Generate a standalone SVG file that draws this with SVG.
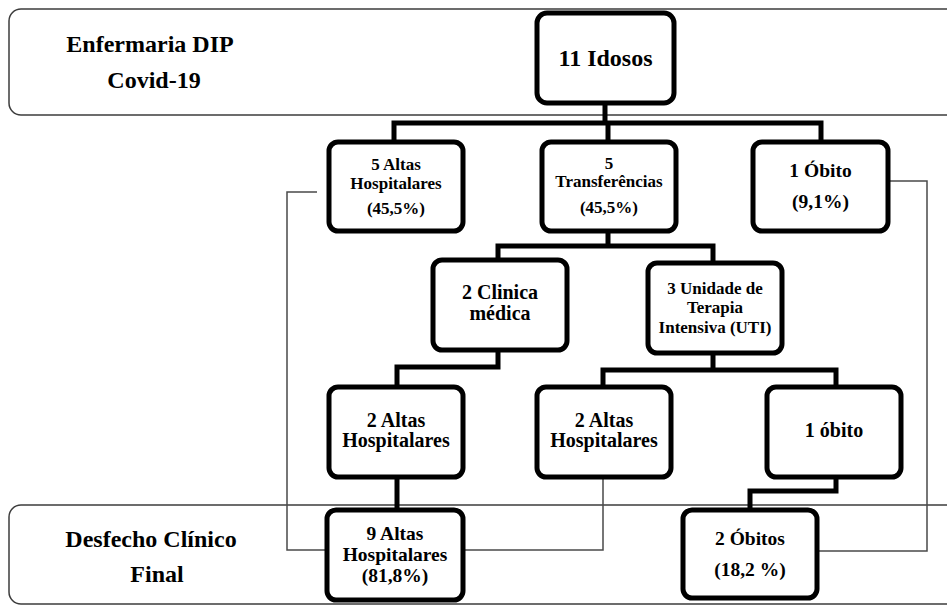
<svg xmlns="http://www.w3.org/2000/svg" width="947" height="606" viewBox="0 0 947 606">
<style>
.band{fill:none;stroke:#3c3c3c;stroke-width:1.5}
.box{fill:#fff;stroke:#000;stroke-width:5}
.thick{fill:none;stroke:#000;stroke-width:5;stroke-linejoin:miter}
.thin{fill:none;stroke:#4a4a4a;stroke-width:1.5}
text{font-family:'Liberation Serif','Times New Roman',Tinos,'DejaVu Serif',serif;font-weight:bold;text-anchor:middle;fill:#000}
.lbl{font-size:24px}
.s17{font-size:17px}
.s19{font-size:19.5px}
.s20{font-size:20px}
</style>
<rect width="947" height="606" fill="#fff"/>
<g id="band-top">
<rect class="band" x="9" y="9" width="960" height="106" rx="12"/>
<text class="lbl" x="150" y="52">Enfermaria DIP</text>
<text class="lbl" x="154" y="88">Covid-19</text>
</g>
<g id="band-bottom">
<rect class="band" x="9" y="505" width="960" height="99" rx="12"/>
<text class="lbl" x="151" y="547">Desfecho Clínico</text>
<text class="lbl" x="157" y="582">Final</text>
</g>
<g id="connectors">
<path class="thick" d="M605,103 V123 M394,143 V123 H821 V143 M608,123 V143"/>
<path class="thick" d="M608,231 V246 M498,260 V246 H713 V264"/>
<path class="thick" d="M498,350 V367 H397 V388"/>
<path class="thick" d="M713,353 V370 M603,388 V370 H836 V388"/>
<path class="thick" d="M397,477 V511"/>
<path class="thick" d="M836,477 V491 H750 V511"/>
<path class="thin" d="M603,479 V550 H465"/>
<path class="thin" d="M317,192 H287 V550 H327"/>
<path class="thin" d="M890,181 H927 V551 H819"/>
</g>
<g id="n-idosos">
<rect class="box" x="537" y="13" width="137" height="90" rx="10"/>
<text class="lbl" x="605.5" y="66">11 Idosos</text>
</g>
<g id="n-altas1">
<rect class="box" x="329" y="142" width="134" height="89" rx="9"/>
<text class="s17" x="396" y="170">5 Altas</text>
<text class="s17" x="396" y="189">Hospitalares</text>
<text class="s17" x="396" y="214">(45,5%)</text>
</g>
<g id="n-transf">
<rect class="box" x="542" y="142" width="134" height="89" rx="9"/>
<text class="s17" x="609" y="169">5</text>
<text class="s17" x="609" y="187">Transferências</text>
<text class="s17" x="609" y="213">(45,5%)</text>
</g>
<g id="n-obito1">
<rect class="box" x="753" y="142" width="135" height="89" rx="9"/>
<text class="s19" x="820.5" y="177">1 Óbito</text>
<text class="s19" x="820.5" y="208">(9,1%)</text>
</g>
<g id="n-clinica">
<rect class="box" x="433" y="260" width="134" height="90" rx="9"/>
<text class="s20" x="500" y="299">2 Clinica</text>
<text class="s20" x="500" y="320">médica</text>
</g>
<g id="n-uti">
<rect class="box" x="648" y="263" width="134" height="90" rx="9"/>
<text class="s17" x="715" y="294">3 Unidade de</text>
<text class="s17" x="715" y="313">Terapia</text>
<text class="s17" x="715" y="333">Intensiva (UTI)</text>
</g>
<g id="n-altas2">
<rect class="box" x="329" y="387" width="134" height="90" rx="9"/>
<text class="s20" x="396" y="427">2 Altas</text>
<text class="s20" x="396" y="447">Hospitalares</text>
</g>
<g id="n-altas3">
<rect class="box" x="537" y="387" width="134" height="90" rx="9"/>
<text class="s20" x="604" y="427">2 Altas</text>
<text class="s20" x="604" y="447">Hospitalares</text>
</g>
<g id="n-obito2">
<rect class="box" x="767" y="387" width="134" height="90" rx="9"/>
<text class="s20" x="834" y="437">1 óbito</text>
</g>
<g id="n-altas-final">
<rect class="box" x="327" y="510" width="136" height="90" rx="9"/>
<text class="s19" x="395" y="540">9 Altas</text>
<text class="s19" x="395" y="561">Hospitalares</text>
<text class="s19" x="395" y="582">(81,8%)</text>
</g>
<g id="n-obitos-final">
<rect class="box" x="683" y="510" width="134" height="88" rx="9"/>
<text class="s19" x="750" y="545">2 Óbitos</text>
<text class="s19" x="750" y="576">(18,2 %)</text>
</g>
</svg>
